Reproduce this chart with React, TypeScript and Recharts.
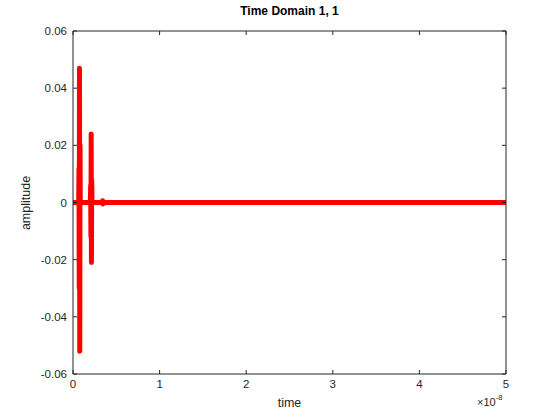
import { LineChart, Line, XAxis, YAxis, ReferenceLine } from "recharts";

// time in units of 1e-8 s
const time = [0, 0.066, 0.069, 0.072, 0.075, 0.078, 0.081, 0.084, 0.2, 0.204, 0.207, 0.21, 0.213, 0.216, 0.22, 0.338, 0.342, 0.346, 0.35, 5];
const amplitude = [0, 0, 0.012, -0.03, 0.047, -0.052, 0.02, 0, 0, 0.006, -0.012, 0.024, -0.021, 0.008, 0, 0, 0.0006, -0.0005, 0, 0];

const xTicks = [0, 1, 2, 3, 4, 5];
const yTicks = [-0.06, -0.04, -0.02, 0, 0.02, 0.04, 0.06];

const data = time.map((t, i) => ({ t, a: amplitude[i] }));

const W = 560;
const H = 420;
const PLOT_LEFT = 73;
const PLOT_RIGHT = 506;
const PLOT_TOP = 31;
const PLOT_BOTTOM = 374;
const AXIS = "#262626";
const FONT = "'Liberation Sans', Arial, sans-serif";

function XTick(props: any) {
  const { x, payload } = props;
  return (
    <g>
      <line x1={x} x2={x} y1={PLOT_BOTTOM} y2={PLOT_BOTTOM - 4} stroke={AXIS} />
      <line x1={x} x2={x} y1={PLOT_TOP} y2={PLOT_TOP + 4} stroke={AXIS} />
      <text x={x} y={PLOT_BOTTOM + 14} textAnchor="middle" fontSize={11.5} fill={AXIS} fontFamily={FONT}>
        {payload.value}
      </text>
    </g>
  );
}

function YTick(props: any) {
  const { y, payload } = props;
  const v = payload.value;
  const label = v === 0 ? "0" : String(Number(v.toFixed(2)));
  return (
    <g>
      <line x1={PLOT_LEFT} x2={PLOT_LEFT + 4} y1={y} y2={y} stroke={AXIS} />
      <line x1={PLOT_RIGHT} x2={PLOT_RIGHT - 4} y1={y} y2={y} stroke={AXIS} />
      <text x={PLOT_LEFT - 6} y={y + 4} textAnchor="end" fontSize={11.5} fill={AXIS} fontFamily={FONT}>
        {label}
      </text>
    </g>
  );
}

export default function App() {
  return (
    <div style={{ position: "absolute", left: 0, top: 0, width: W, height: H, background: "#fff", fontFamily: FONT }}>
      <LineChart
        width={W}
        height={H}
        data={data}
        margin={{ top: PLOT_TOP, right: W - PLOT_RIGHT, bottom: 0, left: 0 }}
      >
        <XAxis
          dataKey="t"
          type="number"
          domain={[0, 5]}
          ticks={xTicks}
          height={H - PLOT_BOTTOM}
          tickLine={false}
          axisLine={{ stroke: AXIS }}
          tick={<XTick />}
          interval={0}
        />
        <YAxis
          type="number"
          domain={[-0.06, 0.06]}
          ticks={yTicks}
          width={PLOT_LEFT}
          tickLine={false}
          axisLine={{ stroke: AXIS }}
          tick={<YTick />}
          interval={0}
        />
        <Line
          dataKey="a"
          type="linear"
          stroke="#ff0000"
          strokeWidth={5}
          strokeLinejoin="round"
          strokeLinecap="butt"
          dot={false}
          isAnimationActive={false}
        />
        <ReferenceLine y={0.06} stroke={AXIS} />
        <ReferenceLine x={5} stroke={AXIS} />
      </LineChart>
      <div style={{ position: "absolute", left: PLOT_LEFT, width: PLOT_RIGHT - PLOT_LEFT, top: 4, textAlign: "center", fontSize: 12, fontWeight: "bold", color: "#000" }}>
        Time Domain 1, 1
      </div>
      <div style={{ position: "absolute", left: PLOT_LEFT, width: PLOT_RIGHT - PLOT_LEFT, top: 396, textAlign: "center", fontSize: 12.5, color: AXIS }}>
        time
      </div>
      <div
        style={{
          position: "absolute",
          left: 26,
          top: (PLOT_TOP + PLOT_BOTTOM) / 2,
          transform: "translate(-50%, -50%) rotate(-90deg)",
          fontSize: 12.5,
          color: AXIS,
          whiteSpace: "nowrap",
        }}
      >
        amplitude
      </div>
      <div style={{ position: "absolute", left: 477, top: 396, fontSize: 11, color: AXIS, whiteSpace: "nowrap" }}>
        ×10<sup style={{ fontSize: 7.5, verticalAlign: "top", position: "relative", top: -3 }}>-8</sup>
      </div>
    </div>
  );
}
